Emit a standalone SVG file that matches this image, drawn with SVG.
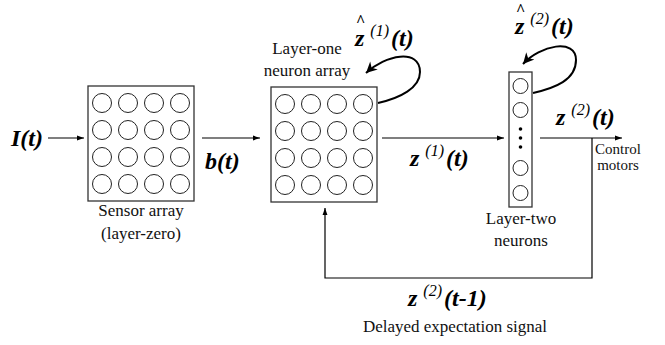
<svg xmlns="http://www.w3.org/2000/svg" width="665" height="345" viewBox="0 0 665 345">
<defs>
<marker id="ah" viewBox="0 0 10 10" refX="10" refY="5" markerWidth="9" markerHeight="7" markerUnits="userSpaceOnUse" orient="auto"><path d="M0,1.5 L10,5 L0,8.5 Z" fill="#000"/></marker>
<marker id="ahb" viewBox="0 0 10 10" refX="10" refY="5" markerWidth="14" markerHeight="11" markerUnits="userSpaceOnUse" orient="auto"><path d="M0,0 L10,5 L0,10 L3,5 Z" fill="#000"/></marker>
</defs>
<g id="connectors" fill="none" stroke="#000">
<line stroke-width="1.2" x1="48" y1="138" x2="84" y2="138" marker-end="url(#ah)"/>
<line stroke-width="1.2" x1="202" y1="138" x2="260" y2="138" marker-end="url(#ah)"/>
<line stroke-width="1.2" x1="382" y1="138" x2="504" y2="138" marker-end="url(#ah)"/>
<line stroke-width="1.2" x1="540" y1="138" x2="622" y2="138" marker-end="url(#ah)"/>
<polyline stroke-width="1.2" points="592,138 592,278 325,278 325,208" marker-end="url(#ah)"/>
<path stroke-width="2" d="M378,103 C400,98 420,88 420,72 C420,48 385,55 366,73" marker-end="url(#ahb)"/>
<path stroke-width="2" d="M533,93 C555,88 576,80 576,60 C576,38 540,45 523,64" marker-end="url(#ahb)"/>
</g>
<g id="input">
<text x="11" y="146" font-family="Liberation Serif, Times New Roman, serif" font-size="24" font-style="italic" font-weight="bold">I(t)</text>
</g>
<g id="sensor-array">
<rect x="88" y="86" width="106" height="115" fill="#fff" stroke="#333" stroke-width="1.3"/>
<g fill="none" stroke="#222" stroke-width="1">
<circle cx="102" cy="103" r="9.5"/><circle cx="128" cy="103" r="9.5"/><circle cx="154" cy="103" r="9.5"/><circle cx="180" cy="103" r="9.5"/>
<circle cx="102" cy="130" r="9.5"/><circle cx="128" cy="130" r="9.5"/><circle cx="154" cy="130" r="9.5"/><circle cx="180" cy="130" r="9.5"/>
<circle cx="102" cy="157" r="9.5"/><circle cx="128" cy="157" r="9.5"/><circle cx="154" cy="157" r="9.5"/><circle cx="180" cy="157" r="9.5"/>
<circle cx="102" cy="184" r="9.5"/><circle cx="128" cy="184" r="9.5"/><circle cx="154" cy="184" r="9.5"/><circle cx="180" cy="184" r="9.5"/>
</g>
<text x="141" y="216" text-anchor="middle" font-family="Liberation Serif, Times New Roman, serif" font-size="17" fill="#111">Sensor array</text>
<text x="141" y="239" text-anchor="middle" font-family="Liberation Serif, Times New Roman, serif" font-size="17" fill="#111">(layer-zero)</text>
</g>
<g id="b-label">
<text x="205" y="169" font-family="Liberation Serif, Times New Roman, serif" font-size="24" font-style="italic" font-weight="bold">b(t)</text>
</g>
<g id="layer-one">
<rect x="271" y="87" width="106" height="115" fill="#fff" stroke="#333" stroke-width="1.3"/>
<g fill="none" stroke="#222" stroke-width="1">
<circle cx="285" cy="104" r="9.5"/><circle cx="311" cy="104" r="9.5"/><circle cx="337" cy="104" r="9.5"/><circle cx="363" cy="104" r="9.5"/>
<circle cx="285" cy="131" r="9.5"/><circle cx="311" cy="131" r="9.5"/><circle cx="337" cy="131" r="9.5"/><circle cx="363" cy="131" r="9.5"/>
<circle cx="285" cy="158" r="9.5"/><circle cx="311" cy="158" r="9.5"/><circle cx="337" cy="158" r="9.5"/><circle cx="363" cy="158" r="9.5"/>
<circle cx="285" cy="185" r="9.5"/><circle cx="311" cy="185" r="9.5"/><circle cx="337" cy="185" r="9.5"/><circle cx="363" cy="185" r="9.5"/>
</g>
<text x="307" y="54" text-anchor="middle" font-family="Liberation Serif, Times New Roman, serif" font-size="17" fill="#111">Layer-one</text>
<text x="307" y="76" text-anchor="middle" font-family="Liberation Serif, Times New Roman, serif" font-size="17" fill="#111">neuron array</text>
<text x="356" y="26" font-family="Liberation Serif, Times New Roman, serif" font-size="16" font-weight="bold">^</text>
<text x="355" y="46" font-family="Liberation Serif, Times New Roman, serif" font-size="24" font-style="italic" font-weight="bold">z<tspan font-size="16" font-weight="normal" dx="6" dy="-10">(1)</tspan><tspan dx="2" dy="10">(t)</tspan></text>
</g>
<g id="z1-label">
<text x="410" y="166" font-family="Liberation Serif, Times New Roman, serif" font-size="24" font-style="italic" font-weight="bold">z<tspan font-size="16" font-weight="normal" dx="6" dy="-10">(1)</tspan><tspan dx="2" dy="10">(t)</tspan></text>
</g>
<g id="layer-two">
<rect x="509" y="72" width="23" height="135" fill="#fff" stroke="#333" stroke-width="1.3"/>
<g fill="none" stroke="#222" stroke-width="1">
<circle cx="520.5" cy="86" r="7.5"/><circle cx="520.5" cy="110" r="7.5"/>
<circle cx="520.5" cy="168" r="7.5"/><circle cx="520.5" cy="193" r="7.5"/>
</g>
<circle cx="520.5" cy="129" r="1.8" fill="#000"/><circle cx="520.5" cy="138" r="1.8" fill="#000"/><circle cx="520.5" cy="147" r="1.8" fill="#000"/>
<text x="521" y="224" text-anchor="middle" font-family="Liberation Serif, Times New Roman, serif" font-size="17" fill="#111">Layer-two</text>
<text x="521" y="246" text-anchor="middle" font-family="Liberation Serif, Times New Roman, serif" font-size="17" fill="#111">neurons</text>
<text x="516" y="15" font-family="Liberation Serif, Times New Roman, serif" font-size="16" font-weight="bold">^</text>
<text x="515" y="34" font-family="Liberation Serif, Times New Roman, serif" font-size="24" font-style="italic" font-weight="bold">z<tspan font-size="16" font-weight="normal" dx="6" dy="-10">(2)</tspan><tspan dx="2" dy="10">(t)</tspan></text>
</g>
<g id="z2-label">
<text x="556" y="125" font-family="Liberation Serif, Times New Roman, serif" font-size="24" font-style="italic" font-weight="bold">z<tspan font-size="16" font-weight="normal" dx="6" dy="-10">(2)</tspan><tspan dx="2" dy="10">(t)</tspan></text>
</g>
<g id="control-motors">
<text x="618" y="154" text-anchor="middle" font-family="Liberation Serif, Times New Roman, serif" font-size="15" fill="#111">Control</text>
<text x="618" y="170" text-anchor="middle" font-family="Liberation Serif, Times New Roman, serif" font-size="15" fill="#111">motors</text>
</g>
<g id="feedback-label">
<text x="408" y="306" font-family="Liberation Serif, Times New Roman, serif" font-size="24" font-style="italic" font-weight="bold">z<tspan font-size="16" font-weight="normal" dx="6" dy="-10">(2)</tspan><tspan dx="2" dy="10">(t-1)</tspan></text>
<text x="455" y="332" text-anchor="middle" font-family="Liberation Serif, Times New Roman, serif" font-size="17" fill="#111">Delayed expectation signal</text>
</g>
</svg>
